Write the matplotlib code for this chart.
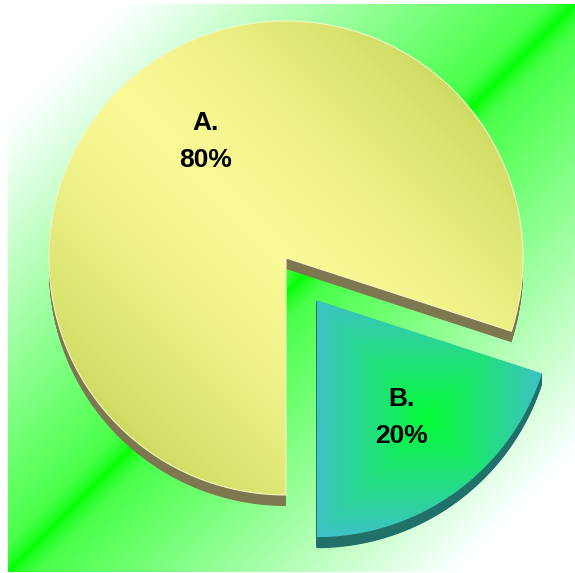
import numpy as np
import matplotlib
matplotlib.use("Agg")
import matplotlib.pyplot as plt
from matplotlib.patches import Polygon

# ---- data ----
categories = ["A.", "B."]
values = [80, 20]
pct_labels = ["80%", "20%"]
explode_frac = [0.0, 0.22]

# ---- style ----
W, H = 575, 573
center_img = (286, 258)
radius = 237
depth = 11
start_angle = -18
side_colors = ["#7d7850", "#21706a"]
face_light = [np.array([0xfa, 0xfa, 0x96]) / 255, np.array([0x05, 0xfc, 0x35]) / 255]
face_dark = [np.array([0xb8, 0xcc, 0x48]) / 255, np.array([0x3e, 0xc2, 0xc6]) / 255]

fig = plt.figure(figsize=(W / 100, H / 100), dpi=100)
fig.patch.set_facecolor("white")
ax = fig.add_axes([0, 0, 1, 1])

cx, cy = center_img[0], H - center_img[1]

wedges, _ = ax.pie(values, startangle=start_angle, counterclock=True,
                   radius=radius, center=(cx, cy), frame=True,
                   explode=[e * radius for e in explode_frac],
                   wedgeprops=dict(facecolor="none", edgecolor="none"))

ax.set_xlim(0, W)
ax.set_ylim(0, H)
ax.set_aspect("auto")
ax.axis("off")

# ---- background gradient ----
bx0, bx1, by0, by1 = 8, 575, 4, 572  # image coords
xs = np.linspace(0, 1, 500)
ys = np.linspace(0, 1, 500)
XX, YY = np.meshgrid(xs, ys)  # YY: 0 at top
s = (XX + YY) / 2
d = np.abs(s - 0.5)
w = np.clip(0.24 + 1.9 * d, 0, 1) * np.clip(d / 0.025, 0, 1) ** 0.6
bg = np.zeros((500, 500, 3))
bg[..., 0] = w
bg[..., 1] = 1.0
bg[..., 2] = np.clip(w * 1.02, 0, 1)
ax.imshow(bg, extent=(bx0, bx1, H - by1, H - by0), origin="upper",
          zorder=0, interpolation="bilinear", aspect="auto")

# ---- pie faces with depth ----
for i, wd in enumerate(wedges):
    wcx, wcy = wd.center
    th = np.radians(np.linspace(wd.theta1, wd.theta2, 300))
    arc = np.column_stack([wcx + wd.r * np.cos(th), wcy + wd.r * np.sin(th)])
    pts = np.vstack([[wcx, wcy], arc])

    for k in np.arange(0.5, depth + 0.01, 0.5):
        ax.add_patch(Polygon(pts - np.array([0, k]), closed=True,
                             facecolor=side_colors[i], edgecolor="none",
                             zorder=1))

    face = Polygon(pts, closed=True, facecolor="none",
                   edgecolor="#f6f6c4" if i == 0 else "none",
                   lw=0.8, zorder=3)
    ax.add_patch(face)

    xmin, ymin = pts.min(axis=0)
    xmax, ymax = pts.max(axis=0)
    gx = np.linspace(xmin, xmax, 300)
    gy = np.linspace(ymin, ymax, 300)
    GX, GY = np.meshgrid(gx, gy)
    if i == 0:
        u = ((GX - wcx) + (GY - wcy)) / (2 * wd.r)
        t = np.clip(np.abs(u) * 1.05, 0, 1) ** 1.4
    else:
        mx, my = (xmin + xmax) / 2, (ymin + ymax) / 2
        hw, hh = (xmax - xmin) / 2, (ymax - ymin) / 2
        t = np.maximum(np.abs(GX - mx) / hw, np.abs(GY - my) / hh)
        t = np.clip(t, 0, 1)
    img = face_light[i][None, None, :] * (1 - t[..., None]) + face_dark[i][None, None, :] * t[..., None]
    im = ax.imshow(img, extent=(xmin, xmax, ymin, ymax), origin="lower",
                   zorder=2, interpolation="bilinear", aspect="auto")
    im.set_clip_path(face)

    # labels
    thm = np.radians((wd.theta1 + wd.theta2) / 2)
    ldist = 0.61 * wd.r
    lx = wcx + ldist * np.cos(thm)
    ly = wcy + ldist * np.sin(thm)
    if i == 0:
        lx += 5
    ax.text(lx, ly + 18.5, categories[i], ha="center", va="center",
            fontsize=19, fontweight="bold", family="Liberation Sans",
            color="black", zorder=5)
    ax.text(lx, ly - 18.5, pct_labels[i], ha="center", va="center",
            fontsize=19, fontweight="bold", family="Liberation Sans",
            color="black", zorder=5)

fig.savefig("out.png", dpi=100)
